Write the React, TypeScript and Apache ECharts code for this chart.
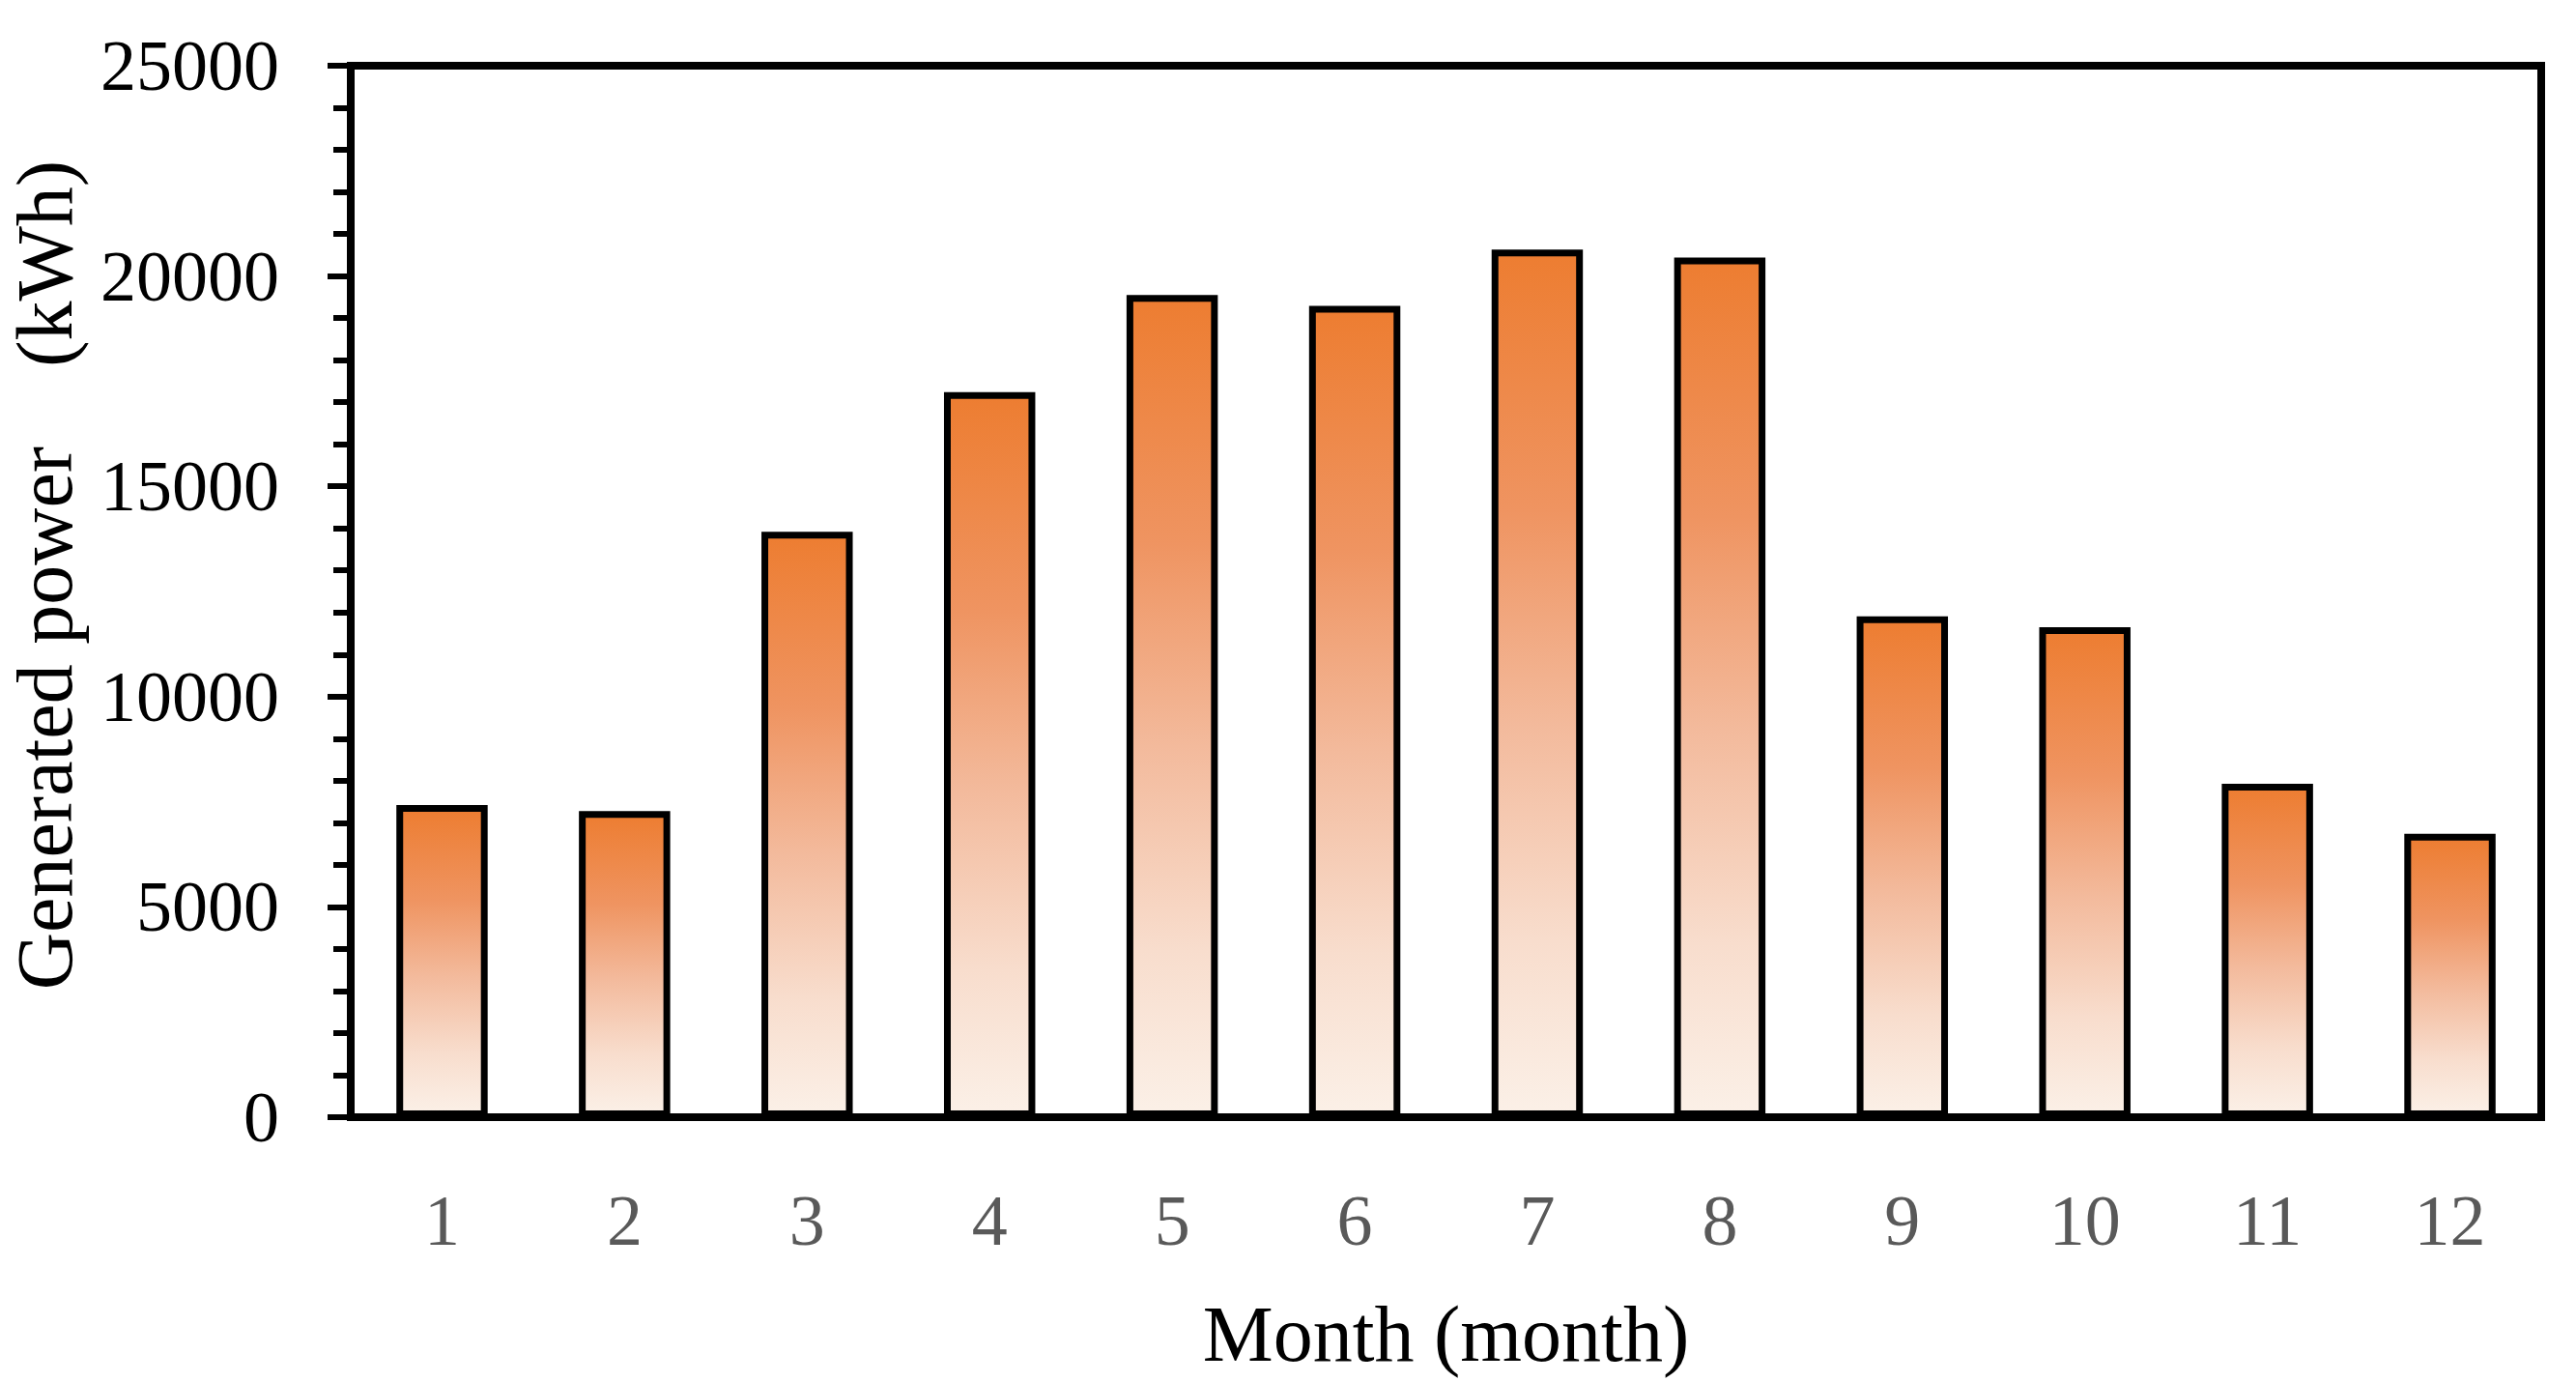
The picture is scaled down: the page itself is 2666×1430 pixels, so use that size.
import React, { useEffect, useRef } from "react";
import * as echarts from "echarts";

const months = ["1", "2", "3", "4", "5", "6", "7", "8", "9", "10", "11", "12"];
const generatedPower = [7420, 7280, 13920, 17240, 19550, 19290, 20630, 20440, 11910, 11650, 7930, 6740];
const yTicks = { min: 0, max: 25000, interval: 5000 };

const FONT = "'Liberation Serif', 'Times New Roman', serif";

export default function App() {
  const ref = useRef<HTMLDivElement>(null);

  useEffect(() => {
    document.body.style.margin = "0";
    if (!ref.current) return;
    const chart = echarts.init(ref.current, undefined, { renderer: "svg" });
    const barColor = new echarts.graphic.LinearGradient(0, 0, 0, 1, [
      { offset: 0, color: "#ED7D31" },
      { offset: 0.3, color: "#EF9461" },
      { offset: 0.55, color: "#F3BA9C" },
      { offset: 0.8, color: "#F8DDCD" },
      { offset: 1, color: "#FBF0E7" },
    ]);
    chart.setOption({
      animation: false,
      backgroundColor: "#fff",
      grid: {
        left: 363,
        right: 36,
        top: 68,
        bottom: 274,
        show: true,
        borderColor: "#000",
        borderWidth: 8,
        containLabel: false,
        outerBoundsMode: "none",
      },
      xAxis: {
        type: "category",
        data: months,
        name: "Month (month)",
        nameLocation: "middle",
        nameGap: 183,
        nameTextStyle: { fontFamily: FONT, fontSize: 82, color: "#000" },
        axisLine: { show: true, lineStyle: { color: "#000", width: 8 } },
        axisTick: { show: false },
        axisLabel: { fontFamily: FONT, fontSize: 74, color: "#595959", margin: 70 },
        splitLine: { show: false },
      },
      yAxis: {
        type: "value",
        min: yTicks.min,
        max: yTicks.max,
        interval: yTicks.interval,
        name: "Generated power    (kWh)",
        nameLocation: "middle",
        nameGap: 276,
        nameTextStyle: { fontFamily: FONT, fontSize: 82, color: "#000", padding: [0, 0, 0, 34] },
        axisLine: { show: true, lineStyle: { color: "#000", width: 8 } },
        axisTick: { show: true, inside: false, length: 24, lineStyle: { color: "#000", width: 6 } },
        minorTick: { show: true, splitNumber: 5, length: 18, lineStyle: { color: "#000", width: 6 } },
        axisLabel: {
          fontFamily: FONT,
          fontSize: 74,
          color: "#000",
          margin: 74,
          formatter: (v: number) => String(v),
        },
        splitLine: { show: false },
      },
      series: [
        {
          type: "bar",
          data: generatedPower,
          barWidth: "50%",
          itemStyle: { color: barColor, borderColor: "#000", borderWidth: 7 },
        },
      ],
    });
    return () => chart.dispose();
  }, []);

  return (
    <div
      ref={ref}
      style={{ position: "fixed", left: 0, top: 0, width: 2666, height: 1430, background: "#fff" }}
    />
  );
}
